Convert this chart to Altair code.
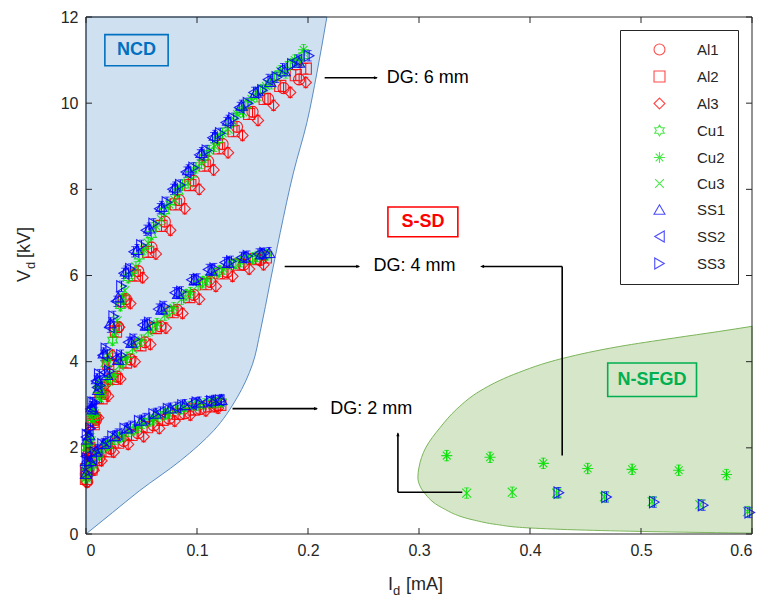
import altair as alt
import pandas as pd

# ---------------- series definitions ----------------
SERIES = ["Al1", "Al2", "Al3", "Cu1", "Cu2", "Cu3", "SS1", "SS2", "SS3"]
COLORS = ["#ff0000", "#ff0000", "#ff0000", "#00e000", "#00e000", "#00e000", "#0000ff", "#0000ff", "#0000ff"]
HEXAGRAM = "M0,-1L0.29,-0.5L0.87,-0.5L0.58,0L0.87,0.5L0.29,0.5L0,1L-0.29,0.5L-0.87,0.5L-0.58,0L-0.87,-0.5L-0.29,-0.5Z"
ASTERISK = "M-1,0L1,0M0,-1L0,1M-0.7,-0.7L0.7,0.7M-0.7,0.7L0.7,-0.7"
XCROSS = "M-0.8,-0.8L0.8,0.8M-0.8,0.8L0.8,-0.8"
SHAPES = ["circle", "square", "diamond", HEXAGRAM, ASTERISK, XCROSS, "triangle-up", "triangle-left", "triangle-right"]

# I_d [mA] and V_d [kV] per series (DG 2 mm, 4 mm, 6 mm, then N-SFGD points)
AL1_I = [0.001, 0.006, 0.012, 0.022, 0.034, 0.047, 0.061, 0.075, 0.089, 0.103, 0.117,
         0.001, 0.004, 0.009, 0.017, 0.028, 0.040, 0.053, 0.067, 0.082, 0.097, 0.112, 0.127, 0.142, 0.157,
         0.002, 0.008, 0.015, 0.021, 0.029, 0.036, 0.047, 0.059, 0.071, 0.084, 0.097, 0.110, 0.123, 0.136, 0.150, 0.164, 0.178, 0.192]
AL1_V = [1.22, 1.52, 1.78, 1.98, 2.16, 2.34, 2.52, 2.68, 2.80, 2.90, 2.96,
         1.40, 2.00, 2.65, 3.25, 3.65, 4.05, 4.45, 4.82, 5.20, 5.55, 5.85, 6.08, 6.25, 6.36,
         1.85, 2.70, 3.40, 4.00, 4.80, 5.45, 6.10, 6.65, 7.25, 7.75, 8.20, 8.65, 9.05, 9.45, 9.80, 10.10, 10.35, 10.55]

AL2_I = [0.000, 0.005, 0.010, 0.018, 0.029, 0.041, 0.055, 0.069, 0.083, 0.097, 0.111, 0.121,
         0.000, 0.003, 0.007, 0.014, 0.024, 0.036, 0.049, 0.063, 0.078, 0.093, 0.108, 0.123, 0.138, 0.153, 0.162,
         0.001, 0.006, 0.013, 0.020, 0.027, 0.034, 0.044, 0.056, 0.068, 0.081, 0.094, 0.107, 0.120, 0.133, 0.147, 0.161, 0.175, 0.189, 0.198]
AL2_V = [1.28, 1.50, 1.72, 1.92, 2.12, 2.30, 2.48, 2.65, 2.79, 2.89, 2.96, 3.00,
         1.50, 2.00, 2.55, 3.15, 3.60, 3.98, 4.38, 4.78, 5.15, 5.50, 5.80, 6.05, 6.25, 6.38, 6.42,
         1.95, 2.60, 3.30, 3.95, 4.70, 5.40, 6.00, 6.55, 7.15, 7.65, 8.10, 8.55, 8.95, 9.35, 9.75, 10.10, 10.40, 10.65, 10.80]

AL3_I = [0.001, 0.007, 0.014, 0.025, 0.038, 0.052, 0.066, 0.080, 0.094, 0.108, 0.119,
         0.001, 0.005, 0.011, 0.020, 0.031, 0.044, 0.058, 0.072, 0.087, 0.102, 0.117, 0.132, 0.147, 0.160,
         0.002, 0.009, 0.017, 0.024, 0.030, 0.040, 0.051, 0.063, 0.076, 0.089, 0.102, 0.115, 0.128, 0.141, 0.155, 0.169, 0.184, 0.198]
AL3_V = [1.20, 1.48, 1.70, 1.90, 2.08, 2.26, 2.45, 2.62, 2.76, 2.86, 2.92,
         1.35, 2.00, 2.70, 3.20, 3.60, 4.00, 4.40, 4.78, 5.12, 5.45, 5.75, 5.98, 6.15, 6.25,
         1.80, 2.75, 3.45, 4.15, 4.80, 5.35, 5.95, 6.50, 7.05, 7.55, 8.00, 8.45, 8.85, 9.25, 9.60, 9.95, 10.25, 10.48]

CU1_I = [0.000, 0.005, 0.011, 0.019, 0.030, 0.043, 0.057, 0.071, 0.085, 0.099, 0.113, 0.122,
         0.000, 0.003, 0.007, 0.013, 0.022, 0.033, 0.046, 0.060, 0.075, 0.090, 0.105, 0.120, 0.135, 0.150, 0.163,
         0.001, 0.005, 0.011, 0.018, 0.024, 0.031, 0.038, 0.048, 0.059, 0.071, 0.083, 0.095, 0.107, 0.119, 0.131, 0.144, 0.157, 0.170, 0.184, 0.196]
CU1_V = [1.32, 1.60, 1.85, 2.05, 2.24, 2.42, 2.62, 2.78, 2.91, 2.99, 3.04, 3.06,
         1.55, 2.15, 2.70, 3.20, 3.60, 4.00, 4.42, 4.80, 5.18, 5.55, 5.85, 6.10, 6.28, 6.40, 6.48,
         2.00, 2.70, 3.35, 3.95, 4.50, 5.30, 5.95, 6.45, 6.95, 7.50, 7.95, 8.35, 8.75, 9.15, 9.55, 9.95, 10.30, 10.60, 10.90, 11.10]

CU2_I = [0.001, 0.006, 0.012, 0.021, 0.033, 0.046, 0.060, 0.074, 0.088, 0.102, 0.116,
         0.001, 0.004, 0.008, 0.015, 0.025, 0.037, 0.050, 0.064, 0.079, 0.094, 0.109, 0.124, 0.139, 0.154,
         0.001, 0.006, 0.012, 0.019, 0.026, 0.033, 0.041, 0.052, 0.063, 0.075, 0.087, 0.099, 0.111, 0.123, 0.136, 0.149, 0.162, 0.175, 0.188, 0.196,
         0.325, 0.364, 0.412, 0.452, 0.492, 0.534, 0.577]
CU2_V = [1.35, 1.65, 1.88, 2.08, 2.27, 2.46, 2.65, 2.80, 2.92, 3.00, 3.05,
         1.60, 2.25, 2.80, 3.30, 3.70, 4.10, 4.50, 4.88, 5.25, 5.60, 5.90, 6.15, 6.32, 6.44,
         2.05, 2.80, 3.45, 4.05, 4.70, 5.45, 6.05, 6.60, 7.15, 7.65, 8.10, 8.50, 8.90, 9.30, 9.75, 10.10, 10.40, 10.75, 11.00, 11.24,
         1.82, 1.78, 1.64, 1.52, 1.50, 1.48, 1.38]

CU3_I = [0.000, 0.004, 0.009, 0.016, 0.026, 0.038, 0.051, 0.065, 0.079, 0.093, 0.107, 0.119,
         0.000, 0.002, 0.006, 0.012, 0.020, 0.030, 0.042, 0.056, 0.071, 0.086, 0.101, 0.116, 0.131, 0.146, 0.160,
         0.002, 0.007, 0.014, 0.021, 0.028, 0.035, 0.045, 0.056, 0.068, 0.080, 0.092, 0.104, 0.116, 0.128, 0.141, 0.154, 0.167, 0.180, 0.193,
         0.343, 0.384, 0.424, 0.467, 0.510, 0.553, 0.596]
CU3_V = [1.30, 1.58, 1.82, 2.02, 2.20, 2.38, 2.57, 2.73, 2.87, 2.96, 3.02, 3.05,
         1.58, 2.05, 2.65, 3.15, 3.55, 3.90, 4.30, 4.70, 5.08, 5.45, 5.78, 6.05, 6.25, 6.38, 6.46,
         2.10, 2.85, 3.50, 4.15, 4.95, 5.65, 6.20, 6.75, 7.30, 7.75, 8.15, 8.60, 9.00, 9.40, 9.80, 10.15, 10.45, 10.70, 10.95,
         0.95, 0.97, 0.95, 0.86, 0.75, 0.68, 0.52]

SS1_I = [0.000, 0.004, 0.009, 0.016, 0.026, 0.037, 0.050, 0.063, 0.076, 0.089, 0.102, 0.115, 0.122,
         0.000, 0.003, 0.006, 0.011, 0.019, 0.029, 0.041, 0.054, 0.068, 0.083, 0.098, 0.113, 0.128, 0.143, 0.158, 0.165,
         0.001, 0.005, 0.010, 0.016, 0.022, 0.029, 0.036, 0.046, 0.057, 0.068, 0.080, 0.092, 0.104, 0.116, 0.128, 0.140, 0.153, 0.166, 0.179, 0.192]
SS1_V = [1.40, 1.70, 1.92, 2.10, 2.28, 2.46, 2.64, 2.80, 2.92, 3.00, 3.06, 3.10, 3.12,
         1.70, 2.30, 2.90, 3.35, 3.70, 4.05, 4.45, 4.85, 5.22, 5.58, 5.90, 6.12, 6.30, 6.42, 6.50, 6.53,
         2.20, 2.95, 3.60, 4.20, 4.90, 5.50, 6.10, 6.60, 7.10, 7.60, 8.05, 8.45, 8.85, 9.25, 9.60, 9.95, 10.25, 10.50, 10.75, 10.95]

SS2_I = [0.001, 0.005, 0.010, 0.018, 0.028, 0.040, 0.053, 0.067, 0.081, 0.095, 0.109, 0.120,
         0.000, 0.002, 0.005, 0.010, 0.017, 0.027, 0.038, 0.051, 0.065, 0.080, 0.095, 0.110, 0.125, 0.140, 0.155,
         0.000, 0.004, 0.009, 0.015, 0.021, 0.027, 0.034, 0.043, 0.054, 0.066, 0.078, 0.090, 0.102, 0.114, 0.126, 0.138, 0.151, 0.164, 0.177, 0.190]
SS2_V = [1.45, 1.75, 1.96, 2.14, 2.32, 2.50, 2.68, 2.83, 2.94, 3.02, 3.07, 3.10,
         1.80, 2.40, 2.95, 3.40, 3.75, 4.08, 4.45, 4.85, 5.22, 5.60, 5.90, 6.14, 6.30, 6.42, 6.50,
         2.25, 2.90, 3.55, 4.15, 4.80, 5.40, 6.05, 6.55, 7.05, 7.55, 8.00, 8.40, 8.80, 9.20, 9.55, 9.90, 10.25, 10.55, 10.80, 11.00]

SS3_I = [0.000, 0.003, 0.008, 0.015, 0.024, 0.035, 0.048, 0.061, 0.074, 0.087, 0.100, 0.113, 0.121,
         0.001, 0.004, 0.008, 0.013, 0.021, 0.032, 0.044, 0.057, 0.071, 0.086, 0.101, 0.116, 0.131, 0.146, 0.161,
         0.001, 0.006, 0.012, 0.018, 0.025, 0.032, 0.040, 0.050, 0.061, 0.073, 0.085, 0.097, 0.109, 0.121, 0.133, 0.146, 0.159, 0.172, 0.186, 0.201,
         0.426, 0.469, 0.512, 0.556, 0.598]
SS3_V = [1.42, 1.68, 1.90, 2.08, 2.26, 2.44, 2.62, 2.78, 2.90, 2.99, 3.05, 3.08, 3.10,
         1.75, 2.45, 3.05, 3.45, 3.78, 4.15, 4.52, 4.90, 5.28, 5.62, 5.92, 6.16, 6.33, 6.45, 6.52,
         2.30, 3.05, 3.70, 4.30, 5.05, 5.75, 6.15, 6.70, 7.20, 7.70, 8.10, 8.50, 8.90, 9.30, 9.65, 10.00, 10.30, 10.60, 10.90, 11.10,
         0.96, 0.86, 0.74, 0.67, 0.50]

ERR_KV = 0.12  # half-height of the error bars

# ---------------- regions ----------------
NCD_V = [0.0, 0.5, 1.0, 1.7, 2.4, 3.16, 3.94, 4.7, 5.86, 7.0, 8.4, 9.55, 10.7, 12.0]
NCD_I = [0.0, 0.024, 0.048, 0.085, 0.115, 0.136, 0.150, 0.157, 0.166, 0.175, 0.187, 0.199, 0.208, 0.217]

SFGD_V = [0.02, 0.05, 0.09, 0.14, 0.22, 0.32, 0.62, 0.95, 1.32, 1.55, 2.0, 2.47, 2.9, 3.32, 3.7, 4.08, 4.35, 4.55, 4.7, 4.82]
SFGD_I = [0.600, 0.520, 0.450, 0.400, 0.370, 0.350, 0.320, 0.305, 0.299, 0.300, 0.306, 0.319, 0.334, 0.355, 0.385, 0.430, 0.480, 0.530, 0.570, 0.600]

# ---------------- annotations ----------------
SEG_X1 = [0.215, 0.179, 0.132, 0.429, 0.429, 0.339, 0.281]
SEG_Y1 = [10.59, 6.21, 2.91, 1.82, 6.21, 0.97, 0.97]
SEG_X2 = [0.262, 0.246, 0.208, 0.429, 0.357, 0.281, 0.281]
SEG_Y2 = [10.59, 6.21, 2.91, 6.21, 6.21, 0.97, 2.33]

HEAD_X = [0.263, 0.247, 0.209, 0.355, 0.281]
HEAD_Y = [10.59, 6.21, 2.91, 6.21, 2.36]
HEAD_ANGLE = [0, 0, 0, 180, 270]

DG_LABELS = ["DG: 6 mm", "DG: 4 mm", "DG: 2 mm"]
DG_X = [0.271, 0.259, 0.220]
DG_Y = [10.59, 6.21, 2.91]

BOX_LABELS = ["NCD", "S-SD", "N-SFGD"]
BOX_COLORS = ["#0070c0", "#ff0000", "#00b050"]
BOX_X1 = [0.017, 0.272, 0.470]
BOX_X2 = [0.074, 0.335, 0.550]
BOX_Y1 = [10.87, 6.90, 3.19]
BOX_Y2 = [11.59, 7.59, 3.97]

X_TICKS = [0, 0.1, 0.2, 0.3, 0.4, 0.5, 0.6]
Y_TICKS = [0, 2, 4, 6, 8, 10, 12]

FONT = "Liberation Sans"
W, H = 666, 517

# ---------------- build tables ----------------
all_i = [AL1_I, AL2_I, AL3_I, CU1_I, CU2_I, CU3_I, SS1_I, SS2_I, SS3_I]
all_v = [AL1_V, AL2_V, AL3_V, CU1_V, CU2_V, CU3_V, SS1_V, SS2_V, SS3_V]
rows = []
for name, col, xs, ys in zip(SERIES, COLORS, all_i, all_v):
    for x, y in zip(xs, ys):
        rows.append({"series": name, "col": col, "I": x, "V": y})
pts = pd.DataFrame(rows)

ncd = pd.DataFrame({"V": NCD_V, "I": NCD_I})
sfgd = pd.DataFrame({"V": SFGD_V, "I": SFGD_I})
segs = pd.DataFrame({"x1": SEG_X1, "y1": SEG_Y1, "x2": SEG_X2, "y2": SEG_Y2})
heads = pd.DataFrame({"x": HEAD_X, "y": HEAD_Y, "a": HEAD_ANGLE})
dg = pd.DataFrame({"t": DG_LABELS, "x": DG_X, "y": DG_Y})
boxes = pd.DataFrame({"t": BOX_LABELS, "c": BOX_COLORS, "x1": BOX_X1, "x2": BOX_X2, "y1": BOX_Y1, "y2": BOX_Y2})
boxes["xm"] = [(a + b) / 2 for a, b in zip(BOX_X1, BOX_X2)]
boxes["ym"] = [(a + b) / 2 for a, b in zip(BOX_Y1, BOX_Y2)]
xt = pd.DataFrame({"v": X_TICKS})
yt = pd.DataFrame({"v": Y_TICKS})

XS = alt.Scale(domain=[0, 0.6], nice=False, zero=False)
YS = alt.Scale(domain=[0, 12], nice=False, zero=False)

x_axis = alt.Axis(values=X_TICKS, format="~g", title=None, grid=False, ticks=False, domain=False,
                  labelFontSize=16, labelFont=FONT, labelColor="#262626", labelPadding=8)
y_axis = alt.Axis(values=Y_TICKS, format="~g", title=None, grid=False, ticks=False, domain=False,
                  labelFontSize=16, labelFont=FONT, labelColor="#262626", labelPadding=8)

ncd_area = alt.Chart(ncd).mark_area(orient="horizontal", interpolate="monotone", fill="#cfe0f1",
                                    stroke="#5a8cc4", strokeWidth=1).encode(
    y=alt.Y("V:Q", scale=YS, axis=y_axis),
    x=alt.X("I:Q", scale=XS, axis=x_axis),
    x2=alt.datum(0.0),
)
sfgd_area = alt.Chart(sfgd).mark_area(orient="horizontal", interpolate="monotone", fill="#d5e6c9",
                                      stroke="#7cb55a", strokeWidth=1).encode(
    y=alt.Y("V:Q", scale=YS),
    x=alt.X("I:Q", scale=XS),
    x2=alt.datum(0.6),
)

color_scale = alt.Scale(domain=SERIES, range=COLORS)
shape_scale = alt.Scale(domain=SERIES, range=SHAPES)

legend = alt.Legend(title=None, orient="none", legendX=534, legendY=13, direction="vertical",
                    strokeColor="#262626", fillColor="white", padding=12, symbolOffset=20,
                    labelOffset=30, labelFontSize=15, labelFont=FONT, labelColor="#262626",
                    rowPadding=10, symbolSize=120, symbolStrokeWidth=1.1,
                    labelExpr="datum.label + '\u00a0\u00a0\u00a0\u00a0\u00a0\u00a0'")

# error bars coloured directly (no scale), so they do not add to the legend
errbars = alt.Chart(pts).transform_calculate(
    lo=f"datum.V - {ERR_KV}", hi=f"datum.V + {ERR_KV}"
).mark_errorbar(ticks=True, thickness=1).encode(
    x=alt.X("I:Q", scale=XS),
    y=alt.Y("lo:Q", scale=YS),
    y2="hi:Q",
    color=alt.Color("col:N", scale=None),
)

points = alt.Chart(pts).mark_point(filled=False, size=125, strokeWidth=1.1, opacity=0.85).encode(
    x=alt.X("I:Q", scale=XS),
    y=alt.Y("V:Q", scale=YS),
    color=alt.Color("series:N", scale=color_scale, legend=legend, title=None),
    shape=alt.Shape("series:N", scale=shape_scale, legend=legend, title=None),
)

seg_layer = alt.Chart(segs).mark_rule(color="black", strokeWidth=1.6).encode(
    x=alt.X("x1:Q", scale=XS), y=alt.Y("y1:Q", scale=YS), x2="x2:Q", y2="y2:Q")
head_layer = alt.Chart(heads).mark_point(shape="M0,0L-2,-0.8L-2,0.8Z", filled=True, color="black",
                                         size=16, opacity=1).encode(
    x=alt.X("x:Q", scale=XS), y=alt.Y("y:Q", scale=YS), angle=alt.Angle("a:Q", scale=None))
dg_text = alt.Chart(dg).mark_text(align="left", baseline="middle", fontSize=18, font=FONT,
                                  color="black").encode(
    x=alt.X("x:Q", scale=XS), y=alt.Y("y:Q", scale=YS), text="t:N")
box_rect = alt.Chart(boxes).mark_rect(fillOpacity=0, strokeWidth=1.6).encode(
    x=alt.X("x1:Q", scale=XS), x2="x2:Q", y=alt.Y("y1:Q", scale=YS), y2="y2:Q",
    stroke=alt.Stroke("c:N", scale=None))
box_text = alt.Chart(boxes).mark_text(align="center", baseline="middle", fontSize=18, font=FONT,
                                      fontWeight="bold").encode(
    x=alt.X("xm:Q", scale=XS), y=alt.Y("ym:Q", scale=YS), text="t:N",
    fill=alt.Fill("c:N", scale=None))

tick_style = dict(color="#262626", strokeWidth=1)
xt_bottom = alt.Chart(xt).mark_rule(**tick_style).encode(
    x=alt.X("v:Q", scale=XS), y=alt.value(H), y2=alt.value(H - 6))
xt_top = alt.Chart(xt).mark_rule(**tick_style).encode(
    x=alt.X("v:Q", scale=XS), y=alt.value(0), y2=alt.value(6))
yt_left = alt.Chart(yt).mark_rule(**tick_style).encode(
    y=alt.Y("v:Q", scale=YS), x=alt.value(0), x2=alt.value(6))
yt_right = alt.Chart(yt).mark_rule(**tick_style).encode(
    y=alt.Y("v:Q", scale=YS), x=alt.value(W), x2=alt.value(W - 6))

frame = alt.Chart(pd.DataFrame({"k": [0]})).mark_rect(fillOpacity=0, stroke="#262626", strokeWidth=1).encode(
    x=alt.value(0), x2=alt.value(W), y=alt.value(0), y2=alt.value(H))

# axis titles with subscripts (pixel positions relative to the plot area)
xtitle = pd.DataFrame({"t": ["I", "d", "[mA]"], "px": [302, 307, 320], "py": [568, 574, 568],
                       "fs": [18, 13, 18]})
ytitle = pd.DataFrame({"t": ["V", "d", "[kV]"], "px": [-61, -55, -61], "py": [265, 252, 241],
                       "fs": [18, 13, 18]})
xtitle_layer = alt.Chart(xtitle).mark_text(align="left", baseline="middle", font=FONT, color="#262626").encode(
    x=alt.X("px:Q", scale=None), y=alt.Y("py:Q", scale=None), text="t:N", size=alt.Size("fs:Q", scale=None))
ytitle_layer = alt.Chart(ytitle).mark_text(align="left", baseline="middle", font=FONT, color="#262626",
                                           angle=270).encode(
    x=alt.X("px:Q", scale=None), y=alt.Y("py:Q", scale=None), text="t:N", size=alt.Size("fs:Q", scale=None))

chart = alt.layer(
    ncd_area, sfgd_area, seg_layer, head_layer, dg_text, box_rect, box_text,
    errbars, points, xt_bottom, xt_top, yt_left, yt_right, frame, xtitle_layer, ytitle_layer
).properties(
    width=W, height=H,
    autosize=alt.AutoSizeParams(type="none"),
    padding={"left": 78, "top": 9, "right": 7, "bottom": 65},
    background="white",
).configure_view(stroke=None)

chart.save("out.html", embed_options={"renderer": "svg", "actions": False})
